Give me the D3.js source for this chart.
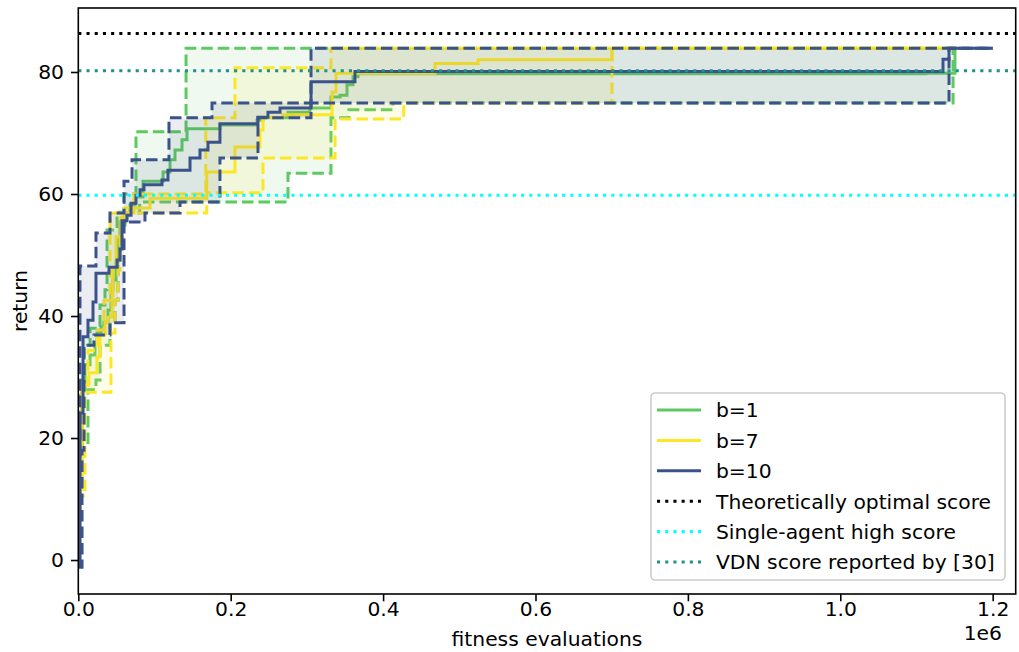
<!DOCTYPE html>
<html><head><meta charset="utf-8">
<script src="https://cdn.jsdelivr.net/npm/d3@7"></script>
<style>
body{margin:0;background:#fff}
svg{display:block}
text{font-family:"DejaVu Sans",sans-serif;fill:#000}
</style>
</head><body>
<svg id="chart" width="1019" height="652"></svg>
<script>
// ---------------- data ----------------
const seriesLabels = ["b=1", "b=7", "b=10"];
const seriesColors = ["#5ec962", "#fde725", "#3b528b"];

// b=1
const b1Mean = [[0,13.0],[2200,19.7],[4900,27.9],[8800,32.0],[15400,33.6],[21900,35.2],[24500,37.2],[29800,38.2],[33700,39.0],[39000,41.0],[42900,44.3],[45500,45.9],[49500,48.9],[52100,52.5],[54700,55.4],[61300,56.9],[67800,58.2],[74400,59.5],[84900,62.1],[111200,63.6],[120400,65.6],[126900,67.2],[136100,68.9],[142700,70.7],[185900,71.3],[234500,72.1],[242400,72.5],[275200,73.4],[304100,74.1],[331600,75.9],[343400,76.2],[352600,77.9],[360500,79.2],[367100,79.7],[1112500,79.8],[1150500,83.9],[1152000,83.9]];
const b1Max = [[0,14.8],[2200,29.5],[7500,35.2],[15400,38.0],[28500,41.8],[35000,44.3],[37700,54.1],[50800,57.0],[60000,60.0],[75700,70.2],[141400,83.9],[1152000,83.9]];
const b1Min = [[0,12.5],[4900,18.9],[12700,27.9],[23200,29.5],[28500,35.2],[41600,39.0],[48200,42.6],[52100,48.4],[54700,52.5],[57300,54.9],[61300,56.9],[80600,58.7],[275200,63.4],[331600,72.5],[355200,73.8],[413000,74.9],[1148000,83.9],[1152000,83.9]];

// b=7
const b7Mean = [[0,7.4],[2200,11.5],[4900,27.9],[7500,28.7],[14000,30.7],[24500,33.3],[28500,36.9],[35000,39.0],[39000,39.8],[44200,43.4],[45500,48.0],[49500,53.0],[56000,56.2],[61300,56.9],[73100,57.7],[94100,59.3],[168600,63.6],[205600,67.7],[238400,70.5],[242400,72.6],[268300,73.0],[333000,76.7],[338200,79.8],[468100,81.4],[524600,82.0],[700400,83.9],[1152000,83.9]];
const b7Max = [[0,8.2],[2200,13.9],[4900,28.7],[12700,34.4],[24500,37.7],[33700,42.6],[41600,56.9],[56000,57.7],[73100,60.0],[167300,72.5],[205600,80.7],[331600,83.9],[1152000,83.9]];
const b7Min = [[0,7.0],[2200,10.5],[8800,27.5],[42900,37.2],[48200,42.6],[52100,47.5],[54700,52.5],[58700,55.7],[63900,56.9],[168600,60.2],[242400,65.9],[337000,72.3],[427200,74.9],[700400,83.9],[1152000,83.9]];

// b=10
const b10Mean = [[0,-1.0],[2200,24.1],[6200,36.6],[12700,39.3],[19300,42.3],[23200,47.0],[40300,48.0],[50800,49.2],[54700,51.0],[57300,55.6],[63900,56.5],[69200,58.5],[75700,59.8],[81000,60.7],[86200,61.5],[109800,62.3],[117700,63.9],[146600,65.9],[159700,67.2],[170200,68.5],[185900,71.5],[235800,72.6],[248900,73.4],[264700,74.1],[305400,78.4],[363100,80.1],[1134800,82.1],[1142700,83.9],[1200000,83.9]];
const b10Max = [[0,17.2],[2200,48.2],[23200,53.6],[41600,56.9],[60000,62.1],[70500,65.6],[119000,72.5],[175500,74.9],[305400,83.9],[1200000,83.9]];
const b10Min = [[0,-1.2],[4900,18.0],[7500,35.2],[20600,36.9],[41600,38.9],[60000,55.4],[87500,56.9],[133500,58.7],[185900,65.9],[235800,72.5],[305400,74.9],[1142700,83.9],[1200000,83.9]];

const refLabels = ["Theoretically optimal score", "Single-agent high score", "VDN score reported by [30]"];
const refValues = [86.3, 59.8, 80.2];
const refColors = ["#000000", "#00ffff", "#21918c"];

const xTicks = [0, 200000, 400000, 600000, 800000, 1000000, 1200000];
const xTickLabels = ["0.0", "0.2", "0.4", "0.6", "0.8", "1.0", "1.2"];
const yTicks = [0, 20, 40, 60, 80];
const yTickLabels = ["0", "20", "40", "60", "80"];
const xLabel = "fitness evaluations";
const yLabel = "return";
const xOffsetLabel = "1e6";

// ---------------- drawing ----------------
const series = [
  {mean: b1Mean, max: b1Max, min: b1Min},
  {mean: b7Mean, max: b7Max, min: b7Min},
  {mean: b10Mean, max: b10Max, min: b10Min}
];

const L = 78.3, R = 1015.7, T = 8, B = 594;
const FS = 20.3;
const svg = d3.select("#chart");
const x = d3.scaleLinear().domain([0, 1230200]).range([L, R]);
const y = d3.scaleLinear().domain([-5.57, 90.49]).range([B, T]);

svg.append("defs").append("clipPath").attr("id", "clip")
  .append("rect").attr("x", L).attr("y", T).attr("width", R - L).attr("height", B - T);

const plot = svg.append("g").attr("clip-path", "url(#clip)");

const stepLine = d3.line().x(d => x(d[0])).y(d => y(d[1])).curve(d3.curveStepAfter);
function valueAt(arr, xv) {
  let v = arr[0][1];
  for (const p of arr) { if (p[0] <= xv) v = p[1]; else break; }
  return v;
}
const area = d3.area().x(d => x(d.x)).y0(d => y(d.lo)).y1(d => y(d.hi)).curve(d3.curveStepAfter);

const LW = 3.0;
series.forEach((s, i) => {
  const col = seriesColors[i];
  const xs = Array.from(new Set(s.max.map(p => p[0]).concat(s.min.map(p => p[0])))).sort((a, b) => a - b);
  const band = xs.map(xv => ({x: xv, lo: valueAt(s.min, xv), hi: valueAt(s.max, xv)}));
  plot.append("path").datum(band).attr("d", area).attr("fill", col).attr("fill-opacity", 0.1);
  plot.append("path").datum(s.min).attr("d", stepLine).attr("fill", "none")
    .attr("stroke", col).attr("stroke-width", LW).attr("stroke-dasharray", "11.5,5");
  plot.append("path").datum(s.max).attr("d", stepLine).attr("fill", "none")
    .attr("stroke", col).attr("stroke-width", LW).attr("stroke-dasharray", "11.5,5");
  plot.append("path").datum(s.mean).attr("d", stepLine).attr("fill", "none")
    .attr("stroke", col).attr("stroke-width", LW);
});

refValues.forEach((v, i) => {
  plot.append("line").attr("x1", L).attr("x2", R).attr("y1", y(v)).attr("y2", y(v))
    .attr("stroke", refColors[i]).attr("stroke-width", 3.1).attr("stroke-dasharray", "3.1,5.1");
});

// axes
const xAxis = d3.axisBottom(x).tickValues(xTicks).tickFormat((d, i) => xTickLabels[i]).tickSize(7.3).tickPadding(0);
const yAxis = d3.axisLeft(y).tickValues(yTicks).tickFormat((d, i) => yTickLabels[i]).tickSize(7.3).tickPadding(7);
const gx = svg.append("g").attr("transform", `translate(0,${B})`).call(xAxis);
const gy = svg.append("g").attr("transform", `translate(${L},0)`).call(yAxis);
[gx, gy].forEach(g => {
  g.select(".domain").remove();
  g.selectAll(".tick line").attr("stroke", "#000").attr("stroke-width", 1.6);
  g.selectAll(".tick text").attr("font-size", FS).attr("font-family", "DejaVu Sans").attr("fill", "#000");
});
gx.selectAll(".tick text").attr("dy", "0.71em");

// spines
svg.append("rect").attr("x", L).attr("y", T).attr("width", R - L).attr("height", B - T)
  .attr("fill", "none").attr("stroke", "#000").attr("stroke-width", 1.6);

svg.append("text").attr("x", (L + R) / 2).attr("y", 646).attr("text-anchor", "middle")
  .attr("font-size", FS).text(xLabel);
svg.append("text").attr("transform", `translate(20,${(T + B) / 2}) rotate(-90)`)
  .attr("text-anchor", "middle").attr("dy", "0.35em").attr("font-size", FS).text(yLabel);
svg.append("text").attr("x", 1002).attr("y", 639.6).attr("text-anchor", "end")
  .attr("font-size", FS).text(xOffsetLabel);

// legend
const lg = svg.append("g");
lg.append("rect").attr("x", 651).attr("y", 393).attr("width", 354).attr("height", 187).attr("rx", 4)
  .attr("fill", "#fff").attr("fill-opacity", 0.8).attr("stroke", "#cccccc").attr("stroke-width", 1.6);
const legendItems = seriesLabels.map((t, i) => ({t, c: seriesColors[i], dotted: false}))
  .concat(refLabels.map((t, i) => ({t, c: refColors[i], dotted: true})));
legendItems.forEach((it, i) => {
  const yy = 410 + i * 30.4;
  const ln = lg.append("line").attr("x1", 657).attr("x2", 701).attr("y1", yy).attr("y2", yy)
    .attr("stroke", it.c).attr("stroke-width", it.dotted ? 3.1 : LW);
  if (it.dotted) ln.attr("stroke-dasharray", "3.1,5.1");
  lg.append("text").attr("x", 716).attr("y", yy).attr("dy", "0.36em").attr("font-size", FS).text(it.t);
});
</script>
</body></html>
